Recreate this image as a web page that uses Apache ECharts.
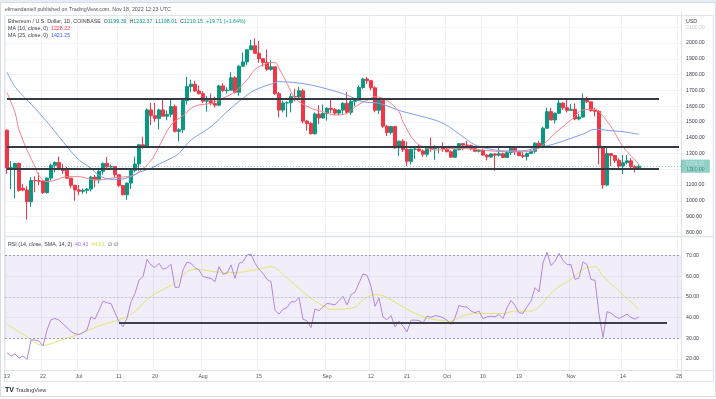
<!DOCTYPE html>
<html><head><meta charset="utf-8">
<script src="https://cdn.jsdelivr.net/npm/echarts@6/dist/echarts.min.js"></script>
<style>html,body{margin:0;padding:0;background:#fff}#c{width:716px;height:399px}</style>
</head><body><div id="c"></div>
<script>
// ---- categories (daily, Jun 13 – Nov 28, 2022) ----
const dates = [
'6/13','6/14','6/15','6/16','6/17','6/18','6/19','6/20','6/21','6/22','6/23','6/24','6/25','6/26','6/27','6/28','6/29','6/30',
'7/1','7/2','7/3','7/4','7/5','7/6','7/7','7/8','7/9','7/10','7/11','7/12','7/13','7/14','7/15','7/16','7/17','7/18','7/19','7/20','7/21','7/22','7/23','7/24','7/25','7/26','7/27','7/28','7/29','7/30','7/31',
'8/1','8/2','8/3','8/4','8/5','8/6','8/7','8/8','8/9','8/10','8/11','8/12','8/13','8/14','8/15','8/16','8/17','8/18','8/19','8/20','8/21','8/22','8/23','8/24','8/25','8/26','8/27','8/28','8/29','8/30','8/31',
'9/1','9/2','9/3','9/4','9/5','9/6','9/7','9/8','9/9','9/10','9/11','9/12','9/13','9/14','9/15','9/16','9/17','9/18','9/19','9/20','9/21','9/22','9/23','9/24','9/25','9/26','9/27','9/28','9/29','9/30',
'10/1','10/2','10/3','10/4','10/5','10/6','10/7','10/8','10/9','10/10','10/11','10/12','10/13','10/14','10/15','10/16','10/17','10/18','10/19','10/20','10/21','10/22','10/23','10/24','10/25','10/26','10/27','10/28','10/29','10/30','10/31',
'11/1','11/2','11/3','11/4','11/5','11/6','11/7','11/8','11/9','11/10','11/11','11/12','11/13','11/14','11/15','11/16','11/17','11/18','11/19','11/20','11/21','11/22','11/23','11/24','11/25','11/26','11/27','11/28'
];
// ---- time-axis tick labels ----
const tickDates = ['6/13','6/22','7/1','7/11','7/20','8/1','8/15','9/1','9/12','9/21','10/1','10/10','10/19','11/1','11/14','11/28'];
const tickTexts = ['13','22','Jul','11','20','Aug','15','Sep','12','21','Oct','10','19','Nov','14','28'];

// ---- ETH/USD daily OHLC ----
const opens = [
1447,1208,1209,1236,1080,1068,994,1128,1127,1124,
1052,1144,1225,1243,1199,1192,1143,1098,1069,1060,
1066,1074,1150,1133,1187,1237,1215,1216,1165,1097,
1038,1112,1193,1233,1355,1340,1576,1539,1522,1576,
1536,1548,1597,1440,1450,1635,1724,1739,1696,1679,
1631,1634,1616,1606,1728,1698,1701,1780,1688,1853,
1880,1957,1982,1935,1900,1877,1833,1849,1679,1575,
1620,1622,1660,1658,1697,1505,1490,1425,1550,1525,
1553,1586,1578,1556,1575,1618,1561,1630,1636,1718,
1772,1761,1716,1574,1636,1473,1432,1470,1336,1378,
1325,1250,1327,1328,1316,1295,1336,1331,1337,1337,
1328,1311,1276,1323,1362,1353,1351,1330,1314,1318,
1290,1278,1297,1289,1298,1274,1306,1332,1311,1286,
1281,1299,1314,1365,1345,1460,1565,1512,1555,1619,
1590,1573,1580,1519,1531,1646,1627,1571,1567,1335,
1100,1299,1287,1256,1220,1241,1253,1216,1199.39];
const highs = [
1452,1252,1240,1244,1106,1093,1150,1155,1177,1130,
1147,1236,1249,1280,1234,1215,1145,1100,1100,1078,
1080,1158,1163,1195,1242,1277,1230,1220,1166,1100,
1114,1205,1280,1360,1406,1585,1620,1620,1584,1640,
1573,1640,1610,1460,1650,1785,1767,1760,1730,1695,
1665,1680,1660,1735,1745,1720,1815,1790,1860,1940,
1960,2020,2030,2012,1905,1958,1890,1851,1690,1635,
1630,1680,1709,1720,1710,1511,1500,1560,1605,1610,
1594,1645,1588,1580,1625,1688,1640,1650,1730,1780,
1785,1765,1725,1640,1650,1480,1475,1475,1380,1390,
1375,1330,1335,1355,1325,1340,1400,1350,1345,1370,
1338,1320,1330,1365,1365,1380,1355,1340,1325,1330,
1295,1300,1300,1340,1305,1310,1335,1340,1315,1310,
1305,1320,1370,1380,1470,1590,1590,1560,1650,1625,
1650,1614,1617,1550,1680,1660,1630,1590,1575,1343,
1345,1300,1290,1270,1290,1290,1270,1225,1232.37];
const lows = [
1171,1075,1016,1058,1060,880,962,1053,1100,1043,
1046,1128,1180,1195,1170,1140,1080,1000,1035,1043,
1045,1060,1085,1110,1165,1200,1200,1150,1086,1035,
1006,1075,1180,1190,1330,1335,1480,1500,1452,1535,
1510,1530,1432,1376,1430,1610,1690,1690,1673,1620,
1565,1605,1590,1600,1690,1680,1700,1680,1665,1851,
1860,1955,1930,1875,1850,1825,1825,1670,1528,1560,
1530,1560,1630,1650,1490,1445,1420,1420,1485,1520,
1508,1555,1540,1540,1550,1550,1545,1600,1633,1710,
1740,1700,1560,1550,1460,1410,1420,1330,1285,1310,
1220,1230,1265,1310,1280,1280,1310,1260,1300,1310,
1307,1275,1270,1320,1320,1340,1320,1310,1306,1285,
1255,1273,1190,1280,1270,1273,1290,1290,1285,1270,
1255,1297,1300,1330,1338,1455,1510,1490,1550,1575,
1560,1570,1510,1510,1525,1620,1565,1535,1230,1075,
1092,1220,1240,1200,1170,1230,1200,1180,1198.01];
const closes = [
1208,1209,1236,1066,1068,994,1128,1127,1124,1052,
1144,1225,1243,1199,1192,1143,1098,1069,1060,1066,
1074,1150,1133,1187,1237,1215,1216,1165,1097,1038,
1112,1193,1233,1355,1340,1576,1539,1522,1576,1536,
1548,1597,1440,1450,1635,1724,1739,1696,1679,1631,
1634,1616,1606,1728,1698,1701,1780,1688,1853,1880,
1957,1982,1935,1900,1877,1833,1849,1679,1575,1620,
1622,1660,1658,1697,1505,1490,1425,1550,1525,1553,
1586,1578,1556,1575,1618,1561,1630,1636,1718,1772,
1761,1716,1574,1636,1473,1432,1470,1336,1378,1325,
1250,1327,1328,1316,1295,1336,1331,1337,1337,1328,
1311,1276,1323,1362,1353,1351,1330,1314,1318,1290,
1278,1297,1289,1298,1274,1306,1332,1311,1286,1281,
1299,1314,1365,1345,1460,1565,1512,1555,1619,1590,
1573,1580,1519,1531,1646,1627,1571,1567,1335,1100,
1299,1287,1256,1220,1241,1253,1216,1200,1219.15];

// ---- moving averages: [dayIndex, value] ----
const ma10 = [[0,1685],[2,1560],[3,1449],[5,1322],[7,1216],[8,1160],[10,1121],[12,1130],[15,1153],[18,1153],[21,1136],[23,1132],[26,1143],[28,1149],[31,1157],[33,1184],[36,1255],[38,1343],[41,1480],[44,1540],[47,1600],[51,1618],[54,1650],[57,1691],[60,1766],[62,1833],[65,1871],[67,1877],[68,1840],[70,1745],[72,1650],[76,1586],[79,1565],[82,1544],[85,1554],[87,1596],[91,1650],[92,1660],[95,1635],[98,1565],[99,1500],[102,1375],[105,1333],[108,1322],[112,1333],[117,1326],[121,1316],[125,1311],[129,1311],[132,1322],[134,1354],[137,1428],[141,1512],[144,1575],[147,1580],[148,1565],[151,1470],[154,1343],[157,1259],[158,1228.22]];
const ma25 = [[0,1815],[2,1723],[5,1639],[7,1586],[11,1470],[15,1343],[18,1259],[21,1206],[23,1160],[26,1136],[28,1136],[31,1153],[33,1180],[36,1206],[38,1233],[41,1269],[43,1301],[46,1385],[51,1470],[55,1565],[59,1650],[62,1702],[66,1740],[68,1755],[72,1749],[76,1734],[81,1702],[85,1670],[89,1628],[93,1618],[96,1592],[99,1565],[104,1533],[109,1491],[114,1406],[117,1354],[121,1326],[125,1316],[129,1317],[132,1333],[136,1354],[141,1396],[144,1423],[147,1453],[151,1444],[154,1438],[158,1421.25]];

// ---- RSI(14) per day, and its SMA ----
const rsi = [
23,21.4,22.5,20.4,21.4,19.8,29.2,29.2,28.6,26.3,
34,39,39.6,38.8,37,35.2,33.3,32.2,31.8,32.8,
34,40.4,39.3,43.6,48,47.2,46.8,42.4,38,35.6,
39.7,47.7,51.7,58.2,59.8,68.2,65.5,64.3,66.3,63.4,
64.2,65.8,54.7,54.7,63.1,66.9,66.3,64.2,63.1,59.9,
59.4,59,57.4,64.7,61,61.5,65.5,59,66.3,67.1,
70.3,70.8,66.3,63.4,61.5,58.5,57.4,43.6,41.7,44,
44.9,47.7,47.7,49.8,39.2,38.5,35.2,44.2,43.4,45.3,
46.9,46.6,46.2,48.2,50.3,46.2,51.1,52.3,56.8,61.2,
60.5,55.2,45.5,49.5,40.3,39,41,35.5,38.3,35.9,
33.1,38.8,38.8,38.6,37.5,40.7,40.2,41,40.7,39.9,
38.8,36.7,39.9,45.9,45.3,45.1,43.2,42.4,43.2,39.5,
40.4,40.7,40.4,41.6,39.5,44.8,48.3,45.9,42.4,42.1,
45.3,48,54.5,52.4,66.6,71.7,65.2,67.3,71.1,67.8,
65.7,65.7,58.5,59.3,67,65.7,58.5,58.1,41.6,30.4,
42.9,42.2,40.6,39.6,40.6,41.7,40.1,39.3,40.42];
const rsiSma = [[0,36.8],[4,32],[9,26.6],[14,29.5],[18,32],[23,36],[29,39.7],[32,43],[36,50.3],[42,56.7],[46,63.1],[48,63.3],[52,62.2],[57,61.9],[62,63.1],[66,64.7],[70,59.1],[73,54.2],[76,49.4],[80,44.6],[81,44],[87,45],[89,48.6],[92,51.1],[94,50.6],[97,47.5],[101,43],[105,39.9],[108,38.8],[111,38.3],[114,41],[118,42],[124,42],[127,43.2],[131,43.2],[133,45.3],[137,53.6],[141,58.5],[144,63.4],[147,64.7],[149,60.1],[153,52.9],[158,44.01]];

// ---- drawn horizontal levels ----
const priceLevels = [1645, 1340, 1202];
const rsiLevel = 37.7;
const lastPrice = 1219.15;

const FONT = 'Liberation Sans';
const GREEN = '#089981', RED = '#f23645';
const candles = opens.map((o, i) => [o, closes[i], lows[i], highs[i]]);
const isTick = (i) => tickDates.indexOf(dates[i]) >= 0;

const chart = echarts.init(document.getElementById('c'));
const faint = '#f0f3fa';
const mainSplit = ['transparent'].concat(Array(14).fill(faint)).concat(['transparent']);
const rsiSplit = ['transparent', faint, faint, faint, faint, faint, faint, 'transparent'];
const lvlStyle = { color: '#363a45', width: 1.8, type: 'solid' };

chart.setOption({
  animation: false,
  backgroundColor: '#fff',
  textStyle: { fontFamily: FONT },
  grid: [
    { left: 5, right: 35, top: 11.45, bottom: 150.9 },
    { left: 5, right: 35, top: 235.05, bottom: 19.4 },
    { left: 5, right: 35, top: 15, bottom: 29 }
  ],
  xAxis: [
    { type: 'category', data: dates, gridIndex: 0, show: false },
    { type: 'category', data: dates, gridIndex: 1, show: false },
    { type: 'category', data: dates, gridIndex: 2,
      axisLine: { show: false }, axisTick: { show: false },
      splitLine: { show: true, interval: (i) => isTick(i), lineStyle: { color: '#eef1f6', width: 1 } },
      axisLabel: { interval: (i) => isTick(i), margin: 4, fontSize: 5.2, color: '#50535e', fontFamily: FONT,
        formatter: (v) => { const k = tickDates.indexOf(v); return k >= 0 ? tickTexts[k] : ''; } } }
  ],
  yAxis: [
    { type: 'value', gridIndex: 0, position: 'right', min: 700, max: 2200, interval: 100,
      axisLine: { show: true, lineStyle: { color: '#e0e3eb' } }, axisTick: { show: false },
      splitLine: { show: true, lineStyle: { color: mainSplit } },
      axisLabel: { margin: 5, fontSize: 5.2, color: '#3a3d47', fontFamily: FONT,
        formatter: (v) => (v === 700 || v === 2200) ? '' : (v === 2100 ? '{f|' + v.toFixed(2) + '}' : v.toFixed(2)),
        rich: { f: { color: '#c9ccd4', fontSize: 5.2, fontFamily: FONT } } } },
    { type: 'value', gridIndex: 1, position: 'right', min: 10, max: 80, interval: 10,
      axisLine: { show: true, lineStyle: { color: '#e0e3eb' } }, axisTick: { show: false },
      splitLine: { show: true, lineStyle: { color: rsiSplit } },
      axisLabel: { margin: 5, fontSize: 5.2, color: '#3a3d47', fontFamily: FONT,
        formatter: (v) => (v === 10 || v === 80) ? '' : v.toFixed(2) } },
    { type: 'value', gridIndex: 2, show: false }
  ],
  series: [
    { type: 'candlestick', xAxisIndex: 0, yAxisIndex: 0, data: candles, barWidth: '66%',
      itemStyle: { color: GREEN, color0: RED, borderColor: GREEN, borderColor0: RED, borderWidth: 1 },
      markLine: { silent: true, symbol: 'none', label: { show: false },
        data: [
          { yAxis: lastPrice, lineStyle: { color: GREEN, type: [1, 2], width: 1, opacity: 0.45 },
            label: { show: true, position: 'end', distance: 0, formatter: '1219.15\n11:36:15',
              backgroundColor: GREEN, color: '#fff', fontSize: 5.2, lineHeight: 6.2, padding: [0.6, 4.5, 0.2, 4.5], fontFamily: FONT } }
        ] } },
    { type: 'line', xAxisIndex: 0, yAxisIndex: 0, data: ma10, smooth: 0.35, symbol: 'none',
      lineStyle: { color: '#f4838b', width: 1 }, z: 3 },
    { type: 'line', xAxisIndex: 0, yAxisIndex: 0, data: ma25, smooth: 0.35, symbol: 'none',
      lineStyle: { color: '#7f9ff3', width: 1 }, z: 3,
      markLine: { silent: true, symbol: 'none', label: { show: false }, lineStyle: lvlStyle,
        data: [
          [{ coord: [0, priceLevels[0]] }, { coord: [163, priceLevels[0]] }],
          [{ coord: [0, priceLevels[1]] }, { coord: [168, priceLevels[1]] }],
          [{ coord: [0, priceLevels[2]] }, { coord: [163, priceLevels[2]] }]
        ] } },
    { type: 'line', xAxisIndex: 1, yAxisIndex: 1, data: rsiSma, smooth: 0.35, symbol: 'none',
      lineStyle: { color: '#e3e66f', width: 1 }, z: 3 },
    { type: 'line', xAxisIndex: 1, yAxisIndex: 1, data: rsi, symbol: 'none',
      lineStyle: { color: '#b087e0', width: 1 }, z: 4,
      markArea: { silent: true, itemStyle: { color: 'rgba(126,87,194,0.10)' }, data: [[{ yAxis: 30 }, { yAxis: 70 }]] },
      markLine: { silent: true, symbol: 'none', label: { show: false },
        data: [
          { yAxis: 70, lineStyle: { color: '#9a9ca8', type: [2, 2], width: 1 } },
          { yAxis: 50, lineStyle: { color: '#c4c6d0', type: [2, 2], width: 1 } },
          { yAxis: 30, lineStyle: { color: '#9a9ca8', type: [2, 2], width: 1 } },
          [{ coord: [28, rsiLevel], lineStyle: { color: '#3d3f4a', width: 1.8, type: 'solid' } }, { coord: [165, rsiLevel] }]
        ] } }
  ],
  graphic: [
    { type: 'rect', z: -10, silent: true, shape: { x: 0, y: 0, width: 716, height: 3 }, style: { fill: '#e8edf5' } },
    { type: 'rect', z: -10, silent: true, shape: { x: 0.5, y: 2.5, width: 715, height: 394 }, style: { fill: 'none', stroke: '#d6dce7', lineWidth: 1 } },
    { type: 'rect', z: -9, silent: true, shape: { x: 4.5, y: 15.5, width: 709, height: 366 }, style: { fill: 'none', stroke: '#e0e3eb', lineWidth: 1 } },
    { type: 'line', z: 10, silent: true, shape: { x1: 4.5, y1: 236.5, x2: 713.5, y2: 236.5 }, style: { stroke: '#e0e3eb', lineWidth: 1.5 } },
    { type: 'line', z: 10, silent: true, shape: { x1: 4.5, y1: 370.5, x2: 713.5, y2: 370.5 }, style: { stroke: '#e0e3eb', lineWidth: 1 } },
    { type: 'text', z: 20, silent: true, x: 5, y: 7, style: { text: 'elimandaniell published on TradingView.com, Nov 18, 2022 12:23 UTC', font: '5.3px "Liberation Sans"', fill: '#50535e' } },
    { type: 'text', z: 20, silent: true, x: 8, y: 19.5, style: {
        text: '{g|Ethereum / U.S. Dollar, 1D, COINBASE}  {g|O}{v|1199.39}  {g|H}{v|1232.37}  {g|L}{v|1198.01}  {g|C}{v|1219.15}  {v|+19.71 (+1.64%)}',
        rich: { g: { fill: '#3a3d47', font: '5.3px "Liberation Sans"' }, v: { fill: GREEN, font: '5.3px "Liberation Sans"' } },
        font: '5.3px "Liberation Sans"' } },
    { type: 'text', z: 20, silent: true, x: 8, y: 26.3, style: {
        text: '{g|MA (10, close, 0)}  {r|1228.22}',
        rich: { g: { fill: '#3a3d47', font: '5.3px "Liberation Sans"' }, r: { fill: RED, font: '5.3px "Liberation Sans"' } },
        font: '5.3px "Liberation Sans"' } },
    { type: 'text', z: 20, silent: true, x: 8, y: 33, style: {
        text: '{g|MA (25, close, 0)}  {b|1421.25}',
        rich: { g: { fill: '#3a3d47', font: '5.3px "Liberation Sans"' }, b: { fill: '#2962ff', font: '5.3px "Liberation Sans"' } },
        font: '5.3px "Liberation Sans"' } },
    { type: 'text', z: 20, silent: true, x: 686, y: 19, style: { text: 'USD', font: '5.3px "Liberation Sans"', fill: '#3a3d47' } },
    { type: 'text', z: 20, silent: true, x: 8, y: 242, style: {
        text: '{g|RSI (14, close, SMA, 14, 2)}  {p|40.42}  {y|44.01}  {g|∅}  {g|∅}',
        rich: { g: { fill: '#3a3d47', font: '5.3px "Liberation Sans"' }, p: { fill: '#9c6ade', font: '5.3px "Liberation Sans"' }, y: { fill: '#d8d84a', font: '5.3px "Liberation Sans"' } },
        font: '5.3px "Liberation Sans"' } },
    { type: 'text', z: 20, silent: true, x: 5, y: 387, style: { text: 'TV', font: 'bold 7px "Liberation Sans"', fill: '#131722' } },
    { type: 'text', z: 20, silent: true, x: 15.5, y: 387.6, style: { text: 'TradingView', font: '5.6px "Liberation Sans"', fill: '#3a3d47' } }
  ]
});
</script>
</body></html>
